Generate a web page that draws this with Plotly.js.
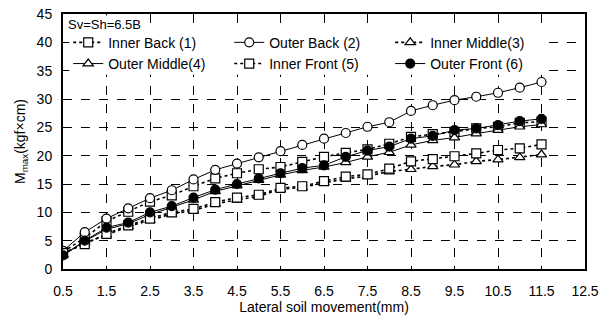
<!DOCTYPE html>
<html>
<head>
<meta charset="utf-8">
<script src="https://cdn.plot.ly/plotly-3.0.1.min.js"></script>
<style>html,body{margin:0;padding:0;background:#fff}#chart{width:601px;height:320px}</style>
</head>
<body>
<div id="chart"></div>
<script>
const movement = [0.5,1,1.5,2,2.5,3,3.5,4,4.5,5,5.5,6,6.5,7,7.5,8,8.5,9,9.5,10,10.5,11,11.5];
const innerBack   = [3.0,5.5,8.4,10.1,11.9,13.0,14.6,16.0,16.9,17.6,18.0,18.9,19.8,20.5,21.1,22.1,23.3,23.8,24.2,24.8,25.1,25.8,26.0];
const outerBack   = [3.2,6.5,8.9,10.7,12.5,13.9,15.8,17.5,18.6,19.7,20.8,21.9,23.0,24.0,25.1,25.9,27.9,28.9,29.8,30.4,31.1,32.0,33.0];
const innerMiddle = [2.6,4.6,6.0,7.5,8.6,9.7,10.3,11.5,12.2,12.8,14.1,14.4,15.2,15.9,16.4,17.2,17.6,18.1,18.4,19.0,19.3,19.7,20.2];
const outerMiddle = [2.4,4.9,7.0,8.0,9.6,10.9,12.2,13.7,14.7,15.7,16.6,17.4,18.0,18.8,19.8,20.6,21.9,22.7,23.2,23.9,24.5,25.1,25.5];
const innerFront  = [2.8,4.4,6.2,7.7,8.9,10.0,10.6,11.8,12.6,13.1,14.3,14.6,15.5,16.3,16.7,17.7,19.0,19.4,19.9,20.4,21.0,21.3,22.0];
const outerFront  = [2.4,5.0,7.3,8.2,10.0,11.1,12.6,14.0,15.0,16.0,16.9,17.8,18.3,19.8,20.9,21.6,23.0,23.5,24.5,24.8,25.4,26.1,26.5];
const seriesNames = ["Inner Back (1)","Outer Back (2)","Inner Middle(3)","Outer Middle(4)","Inner Front (5)","Outer Front (6)"];
const xTicks = [0.5,1.5,2.5,3.5,4.5,5.5,6.5,7.5,8.5,9.5,10.5,11.5,12.5];

function tr(y, name, dash, symbol, filled){
  return {
    x: movement, y: y, name: name, type: 'scatter', mode: 'lines+markers',
    line: {color: '#000', width: dash === 'solid' ? 1 : 1.6, dash: dash},
    marker: {symbol: symbol, size: 9, color: filled ? '#000' : '#fff', line: {color: '#000', width: 1.2}}
  };
}
const data = [
  tr(innerBack, seriesNames[0], 'dot', 'square', false),
  tr(outerBack, seriesNames[1], 'solid', 'circle', false),
  tr(innerMiddle, seriesNames[2], 'dot', 'triangle-up', false),
  tr(outerMiddle, seriesNames[3], 'solid', 'triangle-up', false),
  tr(innerFront, seriesNames[4], 'dot', 'square', false),
  tr(outerFront, seriesNames[5], 'solid', 'circle', true)
];
const layout = {
  width: 601, height: 320,
  margin: {l: 63, r: 16, t: 14, b: 51},
  paper_bgcolor: '#fff', plot_bgcolor: '#fff',
  font: {family: 'Liberation Sans, Arial, sans-serif', size: 14, color: '#000'},
  showlegend: true,
  legend: {orientation: 'h', x: 0.01, y: 0.95, xanchor: 'left', yanchor: 'top',
           entrywidth: 116, bgcolor: 'rgba(0,0,0,0)', font: {size: 14}},
  xaxis: {range: [0.5, 12.5], tickvals: xTicks, ticktext: xTicks.map(String),
          showgrid: true, gridcolor: '#000', griddash: 'dash', gridwidth: 1,
          showline: true, linecolor: '#000', linewidth: 2, mirror: true,
          ticks: '', zeroline: false, ticklabelstandoff: 8,
          title: {text: 'Lateral soil movement(mm)', standoff: 3, font: {size: 14}}},
  yaxis: {range: [0, 45], dtick: 5, showgrid: true, gridcolor: '#000', griddash: 'dash', gridwidth: 1,
          showline: true, linecolor: '#000', linewidth: 2, mirror: true,
          ticks: '', zeroline: false, ticklabelstandoff: 6,
          title: {text: 'M<sub>max</sub>(kgf×cm)', standoff: 8, font: {size: 14}}},
  shapes: [{type: 'rect', xref: 'paper', yref: 'paper', x0: 0.012, x1: 0.93, y0: 0.762, y1: 0.945,
            fillcolor: '#fff', line: {width: 0}, layer: 'above'}],
  annotations: [{xref: 'paper', yref: 'paper', x: 0.005, y: 0.995, xanchor: 'left', yanchor: 'top',
                 text: 'Sv=Sh=6.5B', showarrow: false, font: {size: 13}, bgcolor: '#fff'}]
};
Plotly.newPlot('chart', data, layout, {displayModeBar: false, staticPlot: true});
</script>
</body>
</html>
